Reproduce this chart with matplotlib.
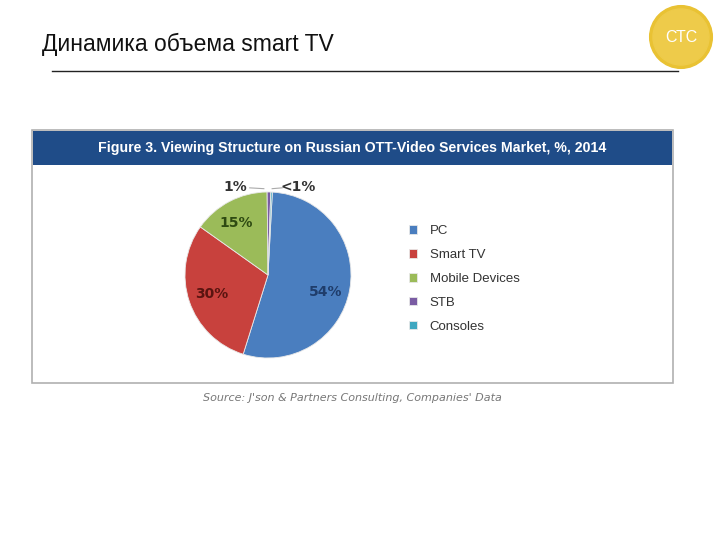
import matplotlib
matplotlib.use("Agg")
import matplotlib.pyplot as plt
from matplotlib.patches import Rectangle, Circle
from matplotlib.lines import Line2D

# data
categories = ["PC", "Smart TV", "Mobile Devices", "STB", "Consoles"]
shares = [54, 30, 15, 0.7, 0.3]
share_labels = ["54%", "30%", "15%", "1%", "<1%"]
colors = ["#4A7EBF", "#C8413D", "#9BBB59", "#7A5CA3", "#3FA7C0"]
label_colors = ["#1F3D6B", "#5A1410", "#2E4A12", "#333333", "#333333"]

title = "Динамика объема smart TV"
fig_title = "Figure 3. Viewing Structure on Russian OTT-Video Services Market, %, 2014"
source = "Source: J'son & Partners Consulting, Companies' Data"

W, H = 720, 540
fig = plt.figure(figsize=(W / 100, H / 100), dpi=100)
fig.patch.set_facecolor("white")


def fx(px):
    return px / W


def fy(py):
    return 1 - py / H


# slide title, rule and logo
fig.text(fx(42), fy(44), title, fontsize=16.5, family=["Liberation Sans", "DejaVu Sans"],
         va="center", ha="left", color="#111111")
fig.add_artist(Line2D([fx(52), fx(678)], [fy(71), fy(71)], color="#222222", lw=1))

logo_ax = fig.add_axes([fx(648), fy(70), fx(66), 66 / H])
logo_ax.set_xlim(-1, 1)
logo_ax.set_ylim(-1, 1)
logo_ax.set_aspect("equal")
logo_ax.axis("off")
logo_ax.add_patch(Circle((0, 0), 0.95, color="#E9C233"))
logo_ax.add_patch(Circle((0, 0), 0.85, color="#EECB4A"))
logo_ax.text(0, 0, "СТС", color="white", fontsize=11.5, ha="center", va="center",
             family=["Liberation Sans Narrow", "Liberation Sans"])

# figure frame and header (behind the pie)
fig.add_artist(Rectangle((fx(32), fy(383)), fx(673 - 32), (383 - 130) / H,
                         facecolor="white", edgecolor="#B0B0B0", lw=1.2, zorder=-2))
fig.add_artist(Rectangle((fx(33), fy(165)), fx(672 - 33), (165 - 131) / H,
                         facecolor="#1F4C88", edgecolor="none", zorder=-1))
fig.text(fx(352), fy(148), fig_title, color="white", fontsize=10.2, fontweight="bold",
         ha="center", va="center", family=["Liberation Sans Narrow", "Liberation Sans"])
fig.text(fx(352), fy(398), source, color="#777777", fontsize=8, style="italic",
         ha="center", va="center", family=["DejaVu Sans"])

# pie
cx, cy, r = 268, 275, 83
half = 1.1 * r
ax = fig.add_axes([fx(cx - half), fy(cy + half), fx(2 * half), 2 * half / H])
wedges, texts = ax.pie(shares, colors=colors, startangle=87, counterclock=False,
                       labels=share_labels, labeldistance=0.72,
                       wedgeprops=dict(edgecolor="#E8E8E8", linewidth=0.6))
for t, c in zip(texts, label_colors):
    t.set_color(c)
    t.set_fontweight("bold")
    t.set_fontsize(10)
    t.set_ha("center")
    t.set_va("center")
texts[0].set_position((0.69, -0.2))
texts[2].set_position((-0.38, 0.63))
texts[3].set_position((-0.39, 1.06))
texts[4].set_position((0.36, 1.06))
ax.plot([-0.22, -0.05], [1.05, 1.04], color="#AAAAAA", lw=0.8)
ax.plot([0.05, 0.17], [1.04, 1.05], color="#AAAAAA", lw=0.8)
ax.set_xlim(-1.1, 1.1)
ax.set_ylim(-1.1, 1.1)
ax.set_aspect("equal")
ax.axis("off")

# legend
leg = ax.legend(wedges, categories, loc="upper left", bbox_to_anchor=(fx(404), fy(220)),
                bbox_transform=fig.transFigure, frameon=False, borderaxespad=0,
                handlelength=0.6, handleheight=0.6, handletextpad=0.95, labelspacing=0.9,
                prop=dict(family="Liberation Sans", size=9.5))
for t in leg.get_texts():
    t.set_color("#333333")

fig.savefig("out.png", dpi=100)
